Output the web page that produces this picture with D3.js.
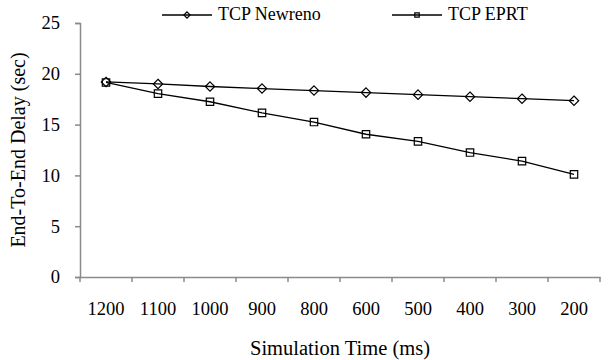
<!DOCTYPE html>
<html>
<head>
<meta charset="utf-8">
<script src="https://cdn.jsdelivr.net/npm/d3@7"></script>
<style>
  body { margin: 0; background: #fff; }
  text { font-family: "Liberation Serif", "Times New Roman", serif; fill: #000; }
</style>
</head>
<body>
<svg id="chart" width="608" height="360"></svg>
<script>
// chart data
const simTimes = ["1200", "1100", "1000", "900", "800", "600", "500", "400", "300", "200"];
const newrenoDelay = [19.2, 19.0, 18.75, 18.55, 18.35, 18.15, 17.95, 17.75, 17.55, 17.35];
const eprtDelay = [19.15, 18.05, 17.25, 16.15, 15.25, 14.05, 13.35, 12.25, 11.4, 10.1];
const yTicks = [0, 5, 10, 15, 20, 25];
const seriesNames = ["TCP Newreno", "TCP EPRT"];

const svg = d3.select("#chart");
const axisColor = "#8a8a8a";

const x = d3.scaleBand()
    .domain(simTimes)
    .range([80, 600])
    .padding(0);

const y = d3.scaleLinear()
    .domain([0, 25])
    .range([277, 23]);

const diamond = d3.symbol().type(d3.symbolDiamond2);
const square = d3.symbol().type(d3.symbolSquare2);

// y axis
const yAxis = svg.append("g")
    .attr("transform", `translate(${x.range()[0]},0)`)
    .call(d3.axisLeft(y).tickValues(yTicks).tickSize(5).tickPadding(15));
yAxis.select(".domain").attr("stroke", axisColor).attr("stroke-width", 1.5);
yAxis.selectAll(".tick line").attr("stroke", axisColor).attr("stroke-width", 1.5);
yAxis.selectAll("text")
    .style("font-family", "Liberation Serif")
    .style("font-size", "18.5px")
    .attr("fill", "#000");

// x axis: labels at band centres, ticks between categories
const xAxis = svg.append("g")
    .attr("transform", `translate(0,${y(0)})`)
    .call(d3.axisBottom(x).tickSize(0).tickPadding(25));
xAxis.select(".domain").attr("stroke", axisColor).attr("stroke-width", 1.5);
xAxis.selectAll("text")
    .style("font-family", "Liberation Serif")
    .style("font-size", "18.5px")
    .attr("fill", "#000");

const boundaries = simTimes.map(d => x(d)).concat([x.range()[1]]);
xAxis.selectAll(".bound")
    .data(boundaries)
    .join("line")
    .attr("class", "bound")
    .attr("x1", d => d)
    .attr("x2", d => d)
    .attr("y1", 0)
    .attr("y2", 5)
    .attr("stroke", axisColor)
    .attr("stroke-width", 1.5);

// axis titles
svg.append("text")
    .attr("x", (x.range()[0] + x.range()[1]) / 2)
    .attr("y", 350)
    .attr("text-anchor", "middle")
    .attr("dominant-baseline", "middle")
    .style("font-size", "20.5px")
    .text("Simulation Time (ms)");

svg.append("text")
    .attr("transform", `translate(20,${(y(0) + y(25)) / 2}) rotate(-90)`)
    .attr("text-anchor", "middle")
    .attr("dominant-baseline", "middle")
    .style("font-size", "20px")
    .text("End-To-End Delay (sec)");

// series
const series = [
    { name: seriesNames[0], values: newrenoDelay, symbol: diamond },
    { name: seriesNames[1], values: eprtDelay, symbol: square }
];

const line = d3.line()
    .x((d, i) => x(simTimes[i]) + x.bandwidth() / 2)
    .y(d => y(d));

series.forEach(s => {
    svg.append("path")
        .datum(s.values)
        .attr("d", line)
        .attr("fill", "none")
        .attr("stroke", "#000")
        .attr("stroke-width", 1.3);

    svg.append("g")
        .selectAll("path")
        .data(s.values)
        .join("path")
        .attr("transform", (d, i) => `translate(${x(simTimes[i]) + x.bandwidth() / 2},${y(d)})`)
        .attr("d", s.symbol.size(s.symbol === square ? 70 : 56)())
        .attr("fill", "none")
        .attr("stroke", "#000")
        .attr("stroke-width", 1.2);
});

// legend
const legendPos = [162, 392];
const legend = svg.append("g");
series.forEach((s, i) => {
    const g = legend.append("g").attr("transform", `translate(${legendPos[i]},15)`);
    g.append("line")
        .attr("x1", 0).attr("x2", 50)
        .attr("y1", 0).attr("y2", 0)
        .attr("stroke", "#000")
        .attr("stroke-width", 1.3);
    g.append("path")
        .attr("transform", "translate(25,0)")
        .attr("d", s.symbol.size(25)())
        .attr("fill", "none")
        .attr("stroke", "#000")
        .attr("stroke-width", 1.2);
    g.append("text")
        .attr("x", 56)
        .attr("y", 1)
        .attr("dominant-baseline", "middle")
        .style("font-size", "18px")
        .text(s.name);
});
</script>
</body>
</html>
